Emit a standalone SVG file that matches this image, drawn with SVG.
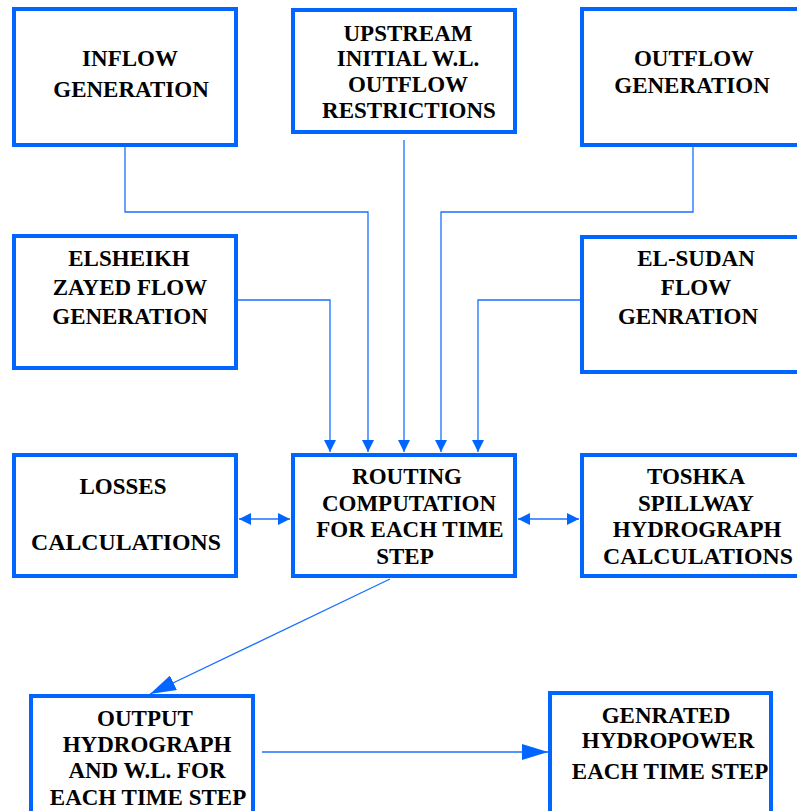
<svg xmlns="http://www.w3.org/2000/svg" width="797" height="811" viewBox="0 0 797 811">
<style>
.box{fill:#fff;stroke:#0066ff;stroke-width:4}
.t{fill:#000;text-anchor:middle}
.c{fill:none;stroke:#1a70ff;stroke-width:1.3}
</style>
<defs>
<marker id="a" markerUnits="userSpaceOnUse" markerWidth="12" markerHeight="12" refX="12" refY="6" orient="auto-start-reverse"><path d="M0,0 L12,6 L0,12 Z" fill="#0066ff"/></marker>
<marker id="b" markerUnits="userSpaceOnUse" markerWidth="26" markerHeight="16" refX="26" refY="8" orient="auto"><path d="M0,0 L26,8 L0,16 Z" fill="#0066ff"/></marker>
</defs>
<rect width="797" height="811" fill="#fff"/>
<g id="connectors">
<path class="c" d="M125,140 V212 H368 V452" marker-end="url(#a)"/>
<path class="c" d="M404,140 V452" marker-end="url(#a)"/>
<path class="c" d="M693,139 V212 H441 V452" marker-end="url(#a)"/>
<path class="c" d="M238,300 H330 V452" marker-end="url(#a)"/>
<path class="c" d="M580,300 H478 V452" marker-end="url(#a)"/>
<path class="c" d="M239,519 H290" marker-start="url(#a)" marker-end="url(#a)"/>
<path class="c" d="M518,519 H579" marker-start="url(#a)" marker-end="url(#a)"/>
<path class="c" d="M390,579 L150,694" marker-end="url(#b)"/>
<path class="c" d="M262,752 H548" marker-end="url(#b)"/>
</g>
<g id="nodes" font-family="Liberation Serif" font-weight="bold" font-size="23">
<g id="inflow"><rect class="box" x="14" y="9" width="222" height="136"/>
<text class="t" x="130" y="66">INFLOW</text><text class="t" x="131" y="97">GENERATION</text></g>
<g id="upstream"><rect class="box" x="293" y="10" width="222" height="122"/>
<text class="t" x="408" y="41">UPSTREAM</text><text class="t" x="408" y="66">INITIAL W.L.</text><text class="t" x="408" y="92">OUTFLOW</text><text class="t" x="409" y="118">RESTRICTIONS</text></g>
<g id="outflow"><rect class="box" x="582" y="9" width="230" height="136"/>
<text class="t" x="694" y="66">OUTFLOW</text><text class="t" x="692" y="93">GENERATION</text></g>
<g id="elsheikh"><rect class="box" x="14" y="236" width="222" height="132"/>
<text class="t" x="129" y="266">ELSHEIKH</text><text class="t" x="130" y="295">ZAYED FLOW</text><text class="t" x="130" y="324">GENERATION</text></g>
<g id="elsudan"><rect class="box" x="582" y="237" width="230" height="135"/>
<text class="t" x="696" y="266">EL-SUDAN</text><text class="t" x="696" y="295">FLOW</text><text class="t" x="688" y="324">GENRATION</text></g>
<g id="losses"><rect class="box" x="14" y="455" width="222" height="121"/>
<text class="t" x="123" y="494">LOSSES</text><text class="t" x="126" y="550" textLength="190" lengthAdjust="spacingAndGlyphs">CALCULATIONS</text></g>
<g id="routing"><rect class="box" x="293" y="455" width="222" height="121"/>
<text class="t" x="407" y="484">ROUTING</text><text class="t" x="409" y="511">COMPUTATION</text><text class="t" x="410" y="537">FOR EACH TIME</text><text class="t" x="405" y="564">STEP</text></g>
<g id="toshka"><rect class="box" x="582" y="455" width="230" height="121"/>
<text class="t" x="696" y="484">TOSHKA</text><text class="t" x="696" y="511">SPILLWAY</text><text class="t" x="697" y="537">HYDROGRAPH</text><text class="t" x="698" y="564" textLength="190" lengthAdjust="spacingAndGlyphs">CALCULATIONS</text></g>
<g id="output"><rect class="box" x="31" y="696" width="222" height="130"/>
<text class="t" x="145" y="726">OUTPUT</text><text class="t" x="147" y="752">HYDROGRAPH</text><text class="t" x="147" y="778">AND W.L. FOR</text><text class="t" x="148" y="805">EACH TIME STEP</text></g>
<g id="genrated"><rect class="box" x="550" y="693" width="221" height="130"/>
<text class="t" x="666" y="723">GENRATED</text><text class="t" x="668" y="748">HYDROPOWER</text><text class="t" x="670" y="779">EACH TIME STEP</text></g>
</g>
</svg>
